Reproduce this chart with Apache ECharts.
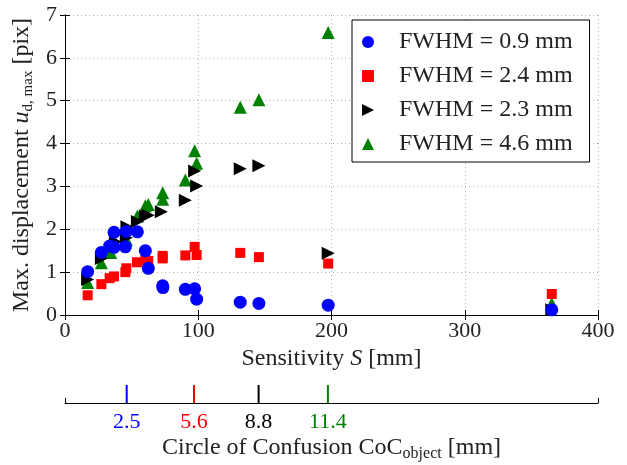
<!DOCTYPE html>
<html>
<head>
<meta charset="utf-8">
<script src="https://cdn.jsdelivr.net/npm/echarts@6/dist/echarts.min.js"></script>
<style>html,body{margin:0;padding:0;background:#fff;}#c{width:627px;height:465px;}</style>
</head>
<body>
<div id="c"></div>
<script>
// ---- data ----
var blueS = [17, 27.3, 33.5, 36.8, 36.8, 45.3, 46, 54.3, 60.3, 62.5, 73.3, 73.5, 90.3, 97.3, 98.8, 131.5, 145.5, 197.5, 365.3];
var blueU = [1.01, 1.46, 1.61, 1.93, 1.58, 1.59, 1.95, 1.94, 1.50, 1.09, 0.68, 0.64, 0.60, 0.61, 0.37, 0.30, 0.27, 0.23, 0.12];

var redS = [17, 27.3, 33.5, 36.8, 45.3, 46, 54, 60.3, 62.5, 73.3, 73.3, 90.3, 97.3, 98.8, 131.5, 145.5, 197.5, 365.3];
var redU = [0.46, 0.72, 0.86, 0.90, 1.00, 1.09, 1.23, 1.28, 1.26, 1.38, 1.32, 1.39, 1.59, 1.40, 1.45, 1.35, 1.20, 0.49];

var blackS = [17, 27.3, 37.8, 46, 46.5, 54.3, 60.3, 62.5, 72.3, 90.3, 97.3, 98.8, 131.5, 145.5, 197.5, 365.3];
var blackU = [0.83, 1.32, 1.71, 1.80, 2.06, 2.18, 2.31, 2.33, 2.41, 2.68, 3.36, 3.01, 3.41, 3.48, 1.44, 0.12];

var greenS = [17, 27.3, 34.3, 46, 54.3, 60.3, 62.5, 73.3, 73.3, 90.3, 97.3, 98.8, 131.5, 145.5, 197.5, 365.3];
var greenU = [0.76, 1.22, 1.46, 1.76, 2.31, 2.55, 2.58, 2.85, 2.70, 3.15, 3.83, 3.54, 4.85, 5.02, 6.59, 0.27];

var seriesNames = ['FWHM = 0.9 mm', 'FWHM = 2.4 mm', 'FWHM = 2.3 mm', 'FWHM = 4.6 mm'];

// circle of confusion secondary axis (positions on S scale)
var cocS = [46.3, 96.8, 145.3, 197.3];
var cocLabels = ['2.5', '5.6', '8.8', '11.4'];
var cocColors = ['#0000ff', '#ff0000', '#000000', '#008000'];

function pairs(xs, ys) { return xs.map(function (x, i) { return [x, ys[i]]; }); }

var FONT = 'Liberation Serif';
var TXT = '#222';
var chart = echarts.init(document.getElementById('c'), null, {renderer: 'canvas'});

var dotted = {show: true, lineStyle: {color: '#b4b4b4', type: [1, 3], width: 1}};

var option = {
  animation: false,
  backgroundColor: '#fff',
  textStyle: {fontFamily: FONT},
  grid: [
    {left: 65, right: 29, top: 15, bottom: 150, show: false},
    {left: 65, right: 29, top: 385, height: 18, show: false}
  ],
  legend: {
    data: seriesNames,
    orient: 'vertical',
    left: 352, top: 20,
    padding: [10, 17, 6, 10],
    itemGap: 10,
    itemWidth: 12, itemHeight: 12,
    backgroundColor: '#fff',
    borderColor: '#000', borderWidth: 1, borderRadius: 0,
    textStyle: {fontFamily: FONT, fontSize: 24, color: TXT, padding: [0, 0, 0, 20]}
  },
  xAxis: [
    {type: 'value', gridIndex: 0, min: 0, max: 400, interval: 100, position: 'bottom',
     axisLine: {lineStyle: {color: '#000', width: 1}},
     axisTick: {inside: true, length: 5, lineStyle: {color: '#000'}},
     axisLabel: {fontFamily: FONT, fontSize: 22, color: TXT, margin: 5},
     splitLine: dotted,
     name: '{n|Sensitivity }{i|S}{n| [mm]}', nameLocation: 'middle', nameGap: 27,
     nameTextStyle: {rich: {n: {fontFamily: FONT, fontSize: 24, color: TXT}, i: {fontFamily: FONT, fontSize: 24, fontStyle: 'italic', color: TXT}}}
    },
    {type: 'value', gridIndex: 0, min: 0, max: 400, interval: 100, position: 'top',
     axisLine: {lineStyle: {color: '#000', width: 1}},
     axisTick: {inside: true, length: 5, lineStyle: {color: '#000'}},
     axisLabel: {show: false}, splitLine: {show: false}
    },
    {type: 'value', gridIndex: 1, min: 0, max: 400, interval: 400, position: 'bottom',
     axisLine: {lineStyle: {color: '#000', width: 1}},
     axisTick: {inside: true, length: 5, lineStyle: {color: '#000'}},
     axisLabel: {show: false}, splitLine: {show: false},
     name: '{n|Circle of Confusion CoC}{s|object}{n| [mm]}', nameLocation: 'middle', nameGap: 31,
     nameTextStyle: {rich: {n: {fontFamily: FONT, fontSize: 24, color: TXT}, s: {fontFamily: FONT, fontSize: 16, color: TXT, padding: [12, 0, 0, 0]}}}
    }
  ],
  yAxis: [
    {type: 'value', gridIndex: 0, min: 0, max: 7, interval: 1, position: 'left',
     axisLine: {show: true, lineStyle: {color: '#000', width: 1}},
     axisTick: {show: true, inside: true, length: 5, lineStyle: {color: '#000'}},
     axisLabel: {fontFamily: FONT, fontSize: 22, color: TXT, margin: 8},
     splitLine: dotted,
     name: '{n|Max. displacement }{i|u}{s|d, max}{n| [pix]}', nameLocation: 'middle', nameGap: 25,
     nameTextStyle: {rich: {n: {fontFamily: FONT, fontSize: 24, color: TXT}, i: {fontFamily: FONT, fontSize: 24, fontStyle: 'italic', color: TXT}, s: {fontFamily: FONT, fontSize: 15, color: TXT, padding: [12, 0, 0, 0]}}}
    },
    {type: 'value', gridIndex: 0, min: 0, max: 7, interval: 1, position: 'right',
     axisLine: {show: true, lineStyle: {color: '#000', width: 1}},
     axisTick: {show: true, inside: true, length: 5, lineStyle: {color: '#000'}},
     axisLabel: {show: false}, splitLine: {show: false}
    },
    {type: 'value', gridIndex: 1, min: 0, max: 1, show: false}
  ],
  series: [
    {name: seriesNames[3], type: 'scatter', xAxisIndex: 0, yAxisIndex: 0, symbol: 'triangle', symbolSize: 13,
     itemStyle: {color: '#008000', opacity: 1}, data: pairs(greenS, greenU)},
    {name: seriesNames[2], type: 'scatter', xAxisIndex: 0, yAxisIndex: 0, symbol: 'path://M0,0L10,5L0,10Z', symbolSize: 13,
     itemStyle: {color: '#000000', opacity: 1}, data: pairs(blackS, blackU)},
    {name: seriesNames[1], type: 'scatter', xAxisIndex: 0, yAxisIndex: 0, symbol: 'rect', symbolSize: 10,
     itemStyle: {color: '#ff0000', opacity: 1}, data: pairs(redS, redU)},
    {name: seriesNames[0], type: 'scatter', xAxisIndex: 0, yAxisIndex: 0, symbol: 'circle', symbolSize: 13,
     itemStyle: {color: '#0000ff', opacity: 1}, data: pairs(blueS, blueU)},
    {name: 'coc', type: 'scatter', xAxisIndex: 2, yAxisIndex: 2, symbol: 'rect', symbolSize: [2, 18], silent: true,
     data: cocS.map(function (s, i) {
       return {value: [s, 0.5], itemStyle: {color: cocColors[i], opacity: 1},
               label: {show: true, position: 'bottom', distance: 8, formatter: cocLabels[i],
                       fontFamily: FONT, fontSize: 22, color: cocColors[i]}};
     })}
  ]
};
chart.setOption(option);
</script>
</body>
</html>
